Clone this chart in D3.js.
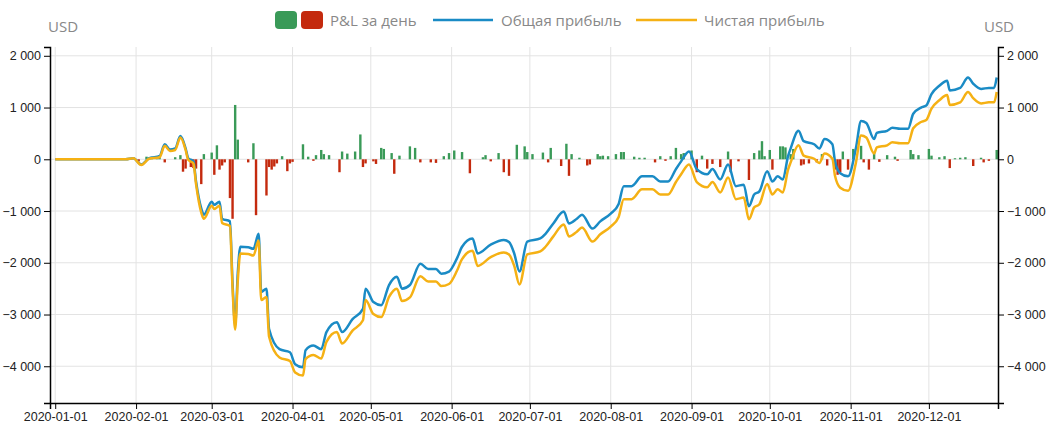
<!DOCTYPE html>
<html><head><meta charset="utf-8">
<script src="https://cdn.jsdelivr.net/npm/d3@7"></script>
<style>body{margin:0;background:#fff;font-family:"Open Sans",Arial,sans-serif}</style>
</head><body><svg id="c" width="1057" height="436"></svg>
<script>
// day-of-year offsets from 2020-01-01
const grossProfit = [[0,0],[27,0],[30,20],[33,-100],[36,20],[40,60],[42,290],[44,190],[46,210],[48,450],[50,210],[51,20],[53,-40],[54,-430],[56,-950],[57,-1070],[60,-820],[61,-880],[63,-820],[64,-1150],[67,-1200],[68,-2400],[69,-3200],[70,-2200],[71,-1690],[74,-1700],[76,-1730],[78,-1440],[79,-2560],[81,-2500],[82,-3280],[86,-3670],[90,-3730],[92,-3960],[95,-4020],[96,-3690],[99,-3600],[102,-3670],[104,-3340],[108,-3150],[110,-3340],[114,-3090],[118,-2890],[119,-2500],[122,-2760],[125,-2820],[128,-2430],[131,-2270],[133,-2500],[136,-2430],[140,-2020],[143,-2120],[146,-2120],[148,-2210],[151,-2170],[154,-1920],[156,-1690],[160,-1530],[162,-1820],[167,-1650],[172,-1560],[174,-1600],[176,-1820],[178,-2170],[181,-1590],[186,-1530],[188,-1440],[191,-1240],[195,-1010],[197,-1240],[200,-1150],[202,-1070],[206,-1340],[209,-1200],[213,-1050],[216,-870],[218,-520],[221,-520],[225,-330],[229,-330],[232,-430],[235,-430],[238,-190],[240,-40],[243,150],[246,-190],[250,-290],[252,-190],[255,-390],[258,-100],[261,-520],[264,-490],[266,-910],[268,-680],[270,-620],[273,-230],[275,-430],[277,-330],[279,-390],[281,60],[282,210],[285,550],[287,350],[291,290],[293,210],[295,390],[298,290],[299,-40],[301,-270],[304,-330],[307,210],[309,740],[311,700],[314,390],[315,510],[319,550],[321,610],[324,590],[327,590],[329,880],[332,1000],[334,1040],[336,1260],[339,1420],[342,1520],[343,1330],[347,1380],[350,1580],[352,1460],[355,1360],[358,1380],[360,1380],[361,1580]];
const netProfit = [[0,0],[27,0],[30,20],[33,-110],[36,10],[40,40],[42,260],[44,160],[46,180],[48,420],[50,180],[51,-10],[53,-80],[54,-480],[56,-1030],[57,-1150],[60,-900],[61,-960],[63,-900],[64,-1230],[67,-1290],[68,-2500],[69,-3290],[70,-2350],[71,-1820],[74,-1830],[76,-1860],[78,-1570],[79,-2720],[81,-2660],[82,-3430],[86,-3830],[90,-3900],[92,-4120],[95,-4180],[96,-3860],[99,-3780],[102,-3850],[104,-3530],[108,-3340],[110,-3560],[114,-3310],[118,-3110],[119,-2720],[122,-2990],[125,-3050],[128,-2660],[131,-2500],[133,-2740],[136,-2670],[140,-2260],[143,-2360],[146,-2360],[148,-2450],[151,-2410],[154,-2160],[156,-1930],[160,-1770],[162,-2060],[167,-1890],[172,-1800],[174,-1840],[176,-2060],[178,-2420],[181,-1840],[186,-1780],[188,-1690],[191,-1490],[195,-1260],[197,-1490],[200,-1400],[202,-1320],[206,-1590],[209,-1450],[213,-1300],[216,-1120],[218,-770],[221,-770],[225,-580],[229,-580],[232,-680],[235,-680],[238,-440],[240,-290],[243,-100],[246,-440],[250,-540],[252,-440],[255,-640],[258,-350],[261,-770],[264,-740],[266,-1160],[268,-930],[270,-870],[273,-480],[275,-680],[277,-580],[279,-640],[281,-200],[282,-60],[285,270],[287,70],[291,10],[293,-70],[295,110],[298,10],[299,-320],[301,-550],[304,-610],[307,-70],[309,460],[311,420],[314,110],[315,230],[319,270],[321,330],[324,310],[327,310],[329,600],[332,720],[334,760],[336,980],[339,1140],[342,1240],[343,1050],[347,1100],[350,1300],[352,1180],[355,1080],[358,1100],[360,1100],[361,1300]];
const dailyPnL = [[32,-40],[35,50],[37,50],[39,60],[40,80],[42,-60],[46,40],[48,80],[49,-240],[50,-180],[52,-150],[53,-170],[54,-180],[56,-480],[57,100],[60,130],[61,-300],[62,270],[63,-200],[64,-120],[65,-60],[67,-750],[68,-1150],[69,1050],[70,380],[74,-60],[76,310],[77,-1080],[81,-700],[82,-150],[83,-200],[84,-140],[85,-80],[87,60],[89,-230],[90,-80],[91,-50],[95,290],[97,50],[99,-30],[100,80],[102,180],[103,100],[105,80],[109,-250],[110,150],[112,110],[115,150],[117,480],[118,-150],[119,-80],[122,-40],[123,-90],[125,220],[126,200],[129,120],[130,-280],[132,70],[136,250],[138,220],[140,-60],[144,-60],[146,-70],[149,60],[151,120],[153,170],[156,140],[159,-270],[164,40],[165,80],[167,-40],[170,120],[172,-250],[174,-320],[177,280],[180,250],[181,140],[183,100],[187,130],[189,-60],[190,220],[194,-130],[196,300],[197,-320],[198,100],[201,30],[204,-120],[205,-100],[208,100],[209,60],[210,70],[212,60],[215,100],[217,140],[218,140],[222,50],[224,30],[226,30],[230,-60],[232,60],[234,-30],[236,60],[238,220],[240,100],[241,120],[244,170],[246,-250],[248,70],[250,-180],[252,-90],[255,-150],[258,150],[259,-250],[262,-40],[266,-400],[268,120],[270,170],[271,350],[272,60],[274,180],[275,-200],[278,250],[279,250],[280,230],[282,100],[283,200],[286,-120],[287,-100],[289,-80],[292,-60],[294,100],[296,-120],[299,-200],[300,-300],[301,-250],[302,150],[304,-200],[306,200],[309,260],[310,-60],[312,-200],[314,130],[316,-50],[319,80],[322,50],[323,-30],[328,180],[329,100],[331,80],[335,200],[336,70],[339,40],[341,60],[343,-170],[345,20],[347,30],[349,40],[352,-130],[355,30],[356,-60],[358,-30],[361,180]];
const yTicks = [-4000,-3000,-2000,-1000,0,1000,2000];
const legendLabels = ["P&L за день","Общая прибыль","Чистая прибыль"];

const base = new Date(2020,0,1);
const D = n => d3.timeDay.offset(base, n);
const svg = d3.select("#c");
const L=50,R=998,T=47,B=403;
const x = d3.scaleTime().domain([D(-2),new Date(2020,11,27,12)]).range([L,R]);
const y = d3.scaleLinear().domain([-4710,2170]).range([B,T]);
const fmt = d3.format(",");
const tf = v => fmt(v).replace(/,/g," ");
const months = d3.timeMonth.range(new Date(2020,0,1), new Date(2020,11,2));

const g = svg.append("g");
g.selectAll(".gx").data(months).join("line").attr("x1",d=>x(d)).attr("x2",d=>x(d)).attr("y1",T).attr("y2",B).attr("stroke","#e3e3e3");
g.selectAll(".gy").data(yTicks).join("line").attr("x1",L).attr("x2",R).attr("y1",d=>y(d)).attr("y2",d=>y(d)).attr("stroke","#e3e3e3");

svg.append("g").selectAll("rect").data(dailyPnL).join("rect")
 .attr("x",d=>x(D(d[0]))-1.2).attr("width",2.4)
 .attr("y",d=>y(Math.max(0,d[1]))).attr("height",d=>Math.abs(y(d[1])-y(0)))
 .attr("fill",d=>d[1]>=0?"#3a9a58":"#c42a0e");

const line = d3.line().x(d=>x(D(d[0]))).y(d=>y(d[1])).curve(d3.curveMonotoneX);
svg.append("path").attr("d",line(grossProfit)).attr("fill","none").attr("stroke","#1a8bc5").attr("stroke-width",2.5);
svg.append("path").attr("d",line(netProfit)).attr("fill","none").attr("stroke","#f5b114").attr("stroke-width",2.5);

const st = s => s.attr("font-size",12.5).attr("font-family","Arial, 'Liberation Sans', sans-serif").call(a=>a.select(".domain").attr("stroke","#000").attr("stroke-width",1.5)).call(a=>a.selectAll("text").attr("fill","#222"));
svg.append("g").attr("transform",`translate(${L},0)`).call(d3.axisLeft(y).tickValues(yTicks).tickFormat(tf).tickSizeOuter(6)).call(st);
svg.append("g").attr("transform",`translate(${R},0)`).call(d3.axisRight(y).tickValues(yTicks).tickFormat(tf).tickSizeOuter(6)).call(st);
svg.append("g").attr("transform",`translate(0,${B})`).call(d3.axisBottom(x).tickValues(months).tickFormat(d3.timeFormat("%Y-%m-%d")).tickSizeOuter(6)).call(st);

const tx = (xx,yy,t,a="start")=>svg.append("text").attr("x",xx).attr("y",yy).attr("text-anchor",a).attr("fill","#888").attr("font-size",15).text(t);
tx(48,32,"USD"); tx(1014,32,"USD","end");
svg.append("rect").attr("x",275).attr("y",11).attr("width",22).attr("height",18).attr("rx",4).attr("fill","#3a9a58");
svg.append("rect").attr("x",301).attr("y",11).attr("width",22).attr("height",18).attr("rx",4).attr("fill","#c42a0e");
tx(330,26,legendLabels[0]);
svg.append("line").attr("x1",433).attr("x2",493).attr("y1",20).attr("y2",20).attr("stroke","#1a8bc5").attr("stroke-width",2.5);
tx(501,26,legendLabels[1]);
svg.append("line").attr("x1",636).attr("x2",697).attr("y1",20).attr("y2",20).attr("stroke","#f5b114").attr("stroke-width",2.5);
tx(704,26,legendLabels[2]);
</script></body></html>
